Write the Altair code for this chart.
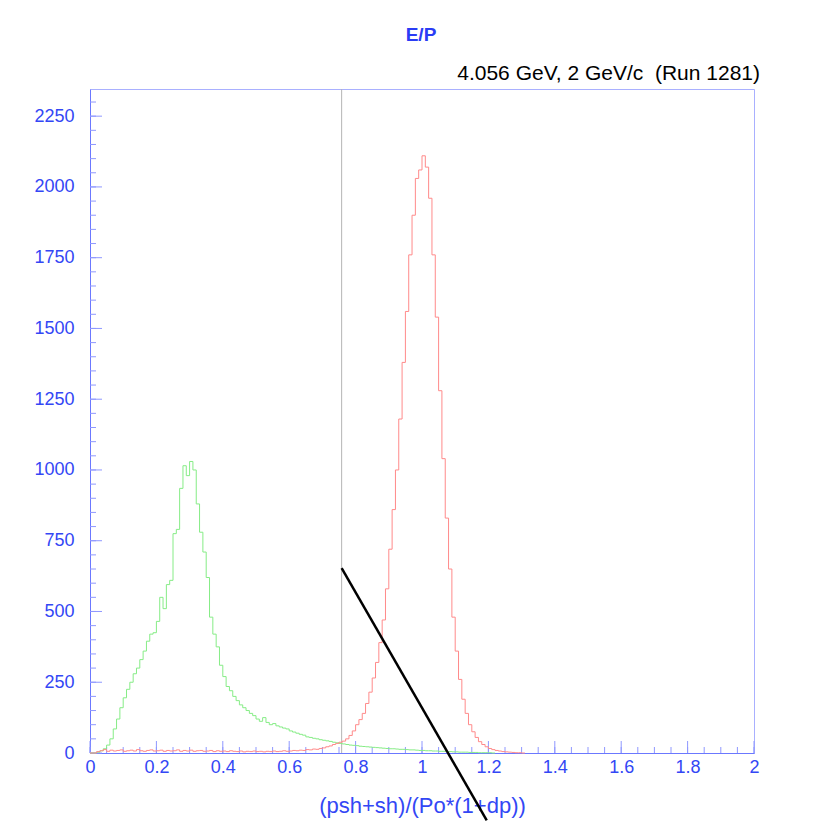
import altair as alt
import pandas as pd

# ---------------- data ----------------
bin_width = 0.01
green_counts = [0, 0, 3, 8, 15, 28, 50, 85, 120, 160, 195, 225, 250, 280, 300, 330, 360, 395, 420, 425,
                465, 550, 510, 595, 610, 775, 790, 935, 1015, 980, 1030, 1000, 880, 780, 710, 620, 480, 420, 375, 310,
                270, 235, 220, 200, 185, 170, 160, 150, 140, 132, 120, 112, 125, 108, 100, 104, 96, 92, 88, 85,
                78, 74, 70, 66, 63, 57, 55, 52, 50, 47, 45, 43, 41, 38, 36, 34, 32, 30, 28, 27,
                26, 24, 23, 22, 21, 20, 19, 18, 17, 16, 15, 15, 14, 13, 13, 12, 11, 11, 10, 9,
                9, 8, 8, 7, 7, 6, 6, 5, 5, 4, 4, 3, 3, 3, 2, 2, 2, 1, 1, 1, 1, 0]
red_counts = [0, 0, 5, 8, 12, 6, 10, 7, 9, 11, 6, 8, 10, 7, 12, 8, 6, 9, 11, 7,
              8, 10, 6, 9, 7, 8, 11, 6, 9, 7, 10, 6, 8, 9, 6, 7, 9, 5, 8, 6,
              7, 5, 8, 6, 5, 7, 4, 6, 5, 7, 5, 6, 4, 6, 5, 7, 5, 6, 8, 6,
              7, 9, 8, 10, 9, 12, 11, 14, 13, 16, 18, 22, 25, 30, 34, 38, 42, 50, 62, 78,
              100, 118, 140, 175, 215, 265, 320, 390, 470, 580, 720, 860, 1000, 1180, 1380, 1560, 1760, 1900, 2030, 2060,
              2110, 2070, 1960, 1760, 1540, 1280, 1040, 830, 650, 480, 360, 260, 190, 140, 100, 75, 55, 40, 30, 22,
              16, 12, 9, 7, 5, 4, 3, 2, 1, 1, 0]
cut_x = 0.758
cut_line_x = [0.758, 1.195]
cut_line_y = [653, -238]
x_tick_labels = [0, 0.2, 0.4, 0.6, 0.8, 1.0, 1.2, 1.4, 1.6, 1.8, 2.0]
x_minor_ticks = [i * 0.05 for i in range(41)]
y_tick_labels = [0, 250, 500, 750, 1000, 1250, 1500, 1750, 2000, 2250]
y_minor_ticks = [i * 50 for i in range(47)]
title_text = "E/P"
run_text = "4.056 GeV, 2 GeV/c \u00a0(Run 1281)"
x_title = "(psh+sh)/(Po*(1+dp))"

# ---------------- tables ----------------
def hist_df(counts):
    xs = [i * bin_width for i in range(len(counts))] + [len(counts) * bin_width]
    ys = list(counts) + [counts[-1]]
    return pd.DataFrame({"x": xs, "y": ys})

green_df = hist_df(green_counts)
red_df = hist_df(red_counts)

W, H = 664, 664
BLUE = "#3347f5"
FRAME = "#a9b0ff"
FONT = "Liberation Sans"

xs = alt.Scale(domain=[0, 2], nice=False, zero=False)
ys = alt.Scale(domain=[0, 2346], nice=False, zero=False)
x_axis = alt.Axis(values=x_tick_labels, format=".1~f", ticks=False, grid=False, labelFlush=False,
                  labelPadding=5, labelFontSize=18, labelColor=BLUE, labelFont=FONT,
                  domainColor="#6b78ff", title=x_title, titleFont=FONT, titleFontSize=22,
                  titleFontWeight="normal", titleColor=BLUE, titlePadding=19)
y_axis = alt.Axis(values=y_tick_labels, format="d", ticks=False, grid=False, labelPadding=16,
                  labelFlush=False, labelFontSize=18, labelColor=BLUE, labelFont=FONT,
                  domainColor="#6b78ff", title=None)

def X(field="x"):
    return alt.X(f"{field}:Q", scale=xs, axis=x_axis)

def Y(field="y"):
    return alt.Y(f"{field}:Q", scale=ys, axis=y_axis)

# inside ticks
xmaj = alt.Chart(pd.DataFrame({"x": x_tick_labels})).mark_rule(color="#8f98ff", strokeWidth=1).encode(
    x=X(), y=alt.value(H), y2=alt.value(H - 12))
xmin = alt.Chart(pd.DataFrame({"x": x_minor_ticks})).mark_rule(color="#8f98ff", strokeWidth=1).encode(
    x=X(), y=alt.value(H), y2=alt.value(H - 6))
ymaj = alt.Chart(pd.DataFrame({"y": y_tick_labels})).mark_rule(color="#8f98ff", strokeWidth=1).encode(
    y=Y(), x=alt.value(0), x2=alt.value(12))
ymin = alt.Chart(pd.DataFrame({"y": y_minor_ticks})).mark_rule(color="#8f98ff", strokeWidth=1).encode(
    y=Y(), x=alt.value(0), x2=alt.value(6))

green = alt.Chart(green_df).mark_line(interpolate="step-after", color="#86ec86", strokeWidth=1).encode(
    x=X(), y=Y())
red = alt.Chart(red_df).mark_line(interpolate="step-after", color="#ff8a8a", strokeWidth=1).encode(
    x=X(), y=Y())

cut = alt.Chart(pd.DataFrame({"x": [cut_x]})).mark_rule(color="#b4b4b4", strokeWidth=1).encode(
    x=X(), y=alt.value(0), y2=alt.value(H))

diag = alt.Chart(pd.DataFrame({"x": cut_line_x, "y": cut_line_y})).mark_line(
    color="black", strokeWidth=2.5, clip=False).encode(x=X(), y=Y())

title = alt.Chart(pd.DataFrame({"t": [title_text]})).mark_text(
    font=FONT, fontSize=19, fontWeight="bold", color="#2a3cf5", align="center", baseline="middle").encode(
    text="t:N", x=alt.value(331), y=alt.value(-54))
run = alt.Chart(pd.DataFrame({"t": [run_text]})).mark_text(
    font=FONT, fontSize=21, color="black", align="right", baseline="middle").encode(
    text="t:N", x=alt.value(670), y=alt.value(-15))

chart = alt.layer(xmin, xmaj, ymin, ymaj, cut, green, red, diag, title, run).properties(
    width=W, height=H,
    autosize=alt.AutoSizeParams(type="none"),
    padding={"left": 82, "top": 81, "right": 62, "bottom": 73},
    background="white",
).configure_view(stroke=FRAME, strokeWidth=1)

chart.save("out.html", embed_options={"renderer": "svg", "actions": False})
